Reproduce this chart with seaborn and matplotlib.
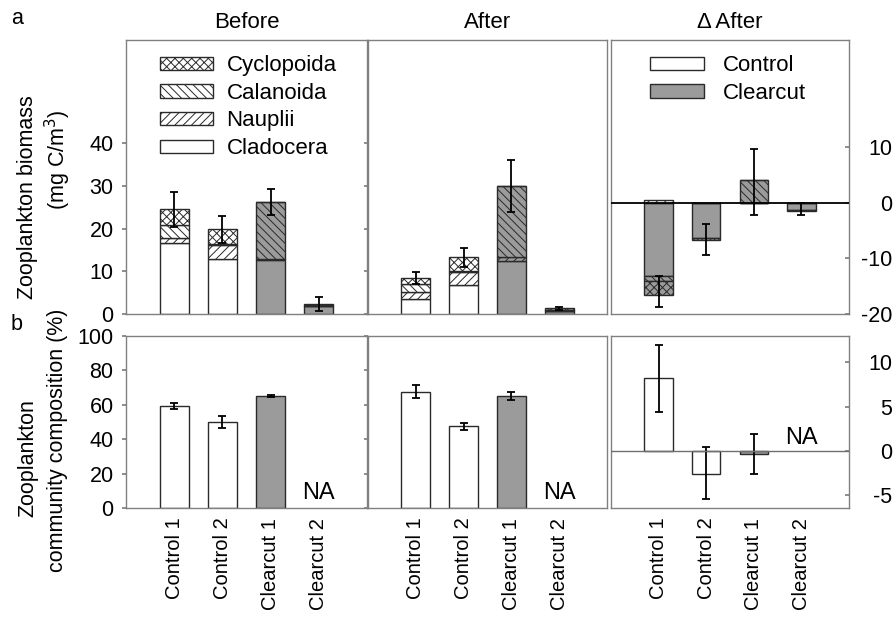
import numpy as np
import pandas as pd
import matplotlib
matplotlib.use("Agg")
import matplotlib.pyplot as plt
import seaborn as sns
from matplotlib.patches import Patch

# ---------------- data ----------------
sites = ["Control 1", "Control 2", "Clearcut 1", "Clearcut 2"]
treatment = ["Control", "Control", "Clearcut", "Clearcut"]
taxa = ["Cyclopoida", "Calanoida", "Nauplii", "Cladocera"]

before_cladocera = [16.7, 13.0, 12.6, 1.8]
before_nauplii = [1.0, 3.2, 0.4, 0.0]
before_calanoida = [3.1, 0.2, 13.2, 0.3]
before_cyclopoida = [3.7, 3.4, 0.0, 0.2]
before_err = [4.0, 3.2, 3.0, 1.6]

after_cladocera = [3.4, 6.7, 12.5, 0.6]
after_nauplii = [1.8, 3.1, 0.8, 0.0]
after_calanoida = [1.8, 0.2, 16.7, 0.4]
after_cyclopoida = [1.4, 3.3, 0.0, 0.3]
after_err = [1.4, 2.2, 6.2, 0.3]

delta_cladocera = [-13.1, -6.3, -0.1, -1.4]
delta_nauplii = [0.4, 0.0, 0.0, 0.0]
delta_calanoida = [-1.0, 0.0, 4.0, -0.1]
delta_cyclopoida = [-2.4, -0.4, 0.0, 0.0]
delta_err_mid = [-16.0, -6.65, 3.7, -1.15]
delta_err = [2.8, 2.75, 6.0, 1.15]

comp_before = [59.3, 50.2, 65.1, np.nan]
comp_before_err = [1.9, 3.5, 0.8, np.nan]
comp_after = [67.6, 47.5, 64.9, np.nan]
comp_after_err = [3.8, 2.2, 2.3, np.nan]
comp_delta = [8.2, -2.6, -0.4, np.nan]
comp_delta_err_mid = [8.2, -2.57, -0.4, np.nan]
comp_delta_err = [3.76, 2.95, 2.3, np.nan]

# ---------------- style ----------------
sns.set_theme(style="white")
plt.rcParams['font.family'] = ['Liberation Sans', 'DejaVu Sans']
plt.rcParams['hatch.linewidth'] = 0.7
plt.rcParams['axes.unicode_minus'] = False
for k in ['text.color', 'axes.labelcolor', 'xtick.color', 'ytick.color']:
    plt.rcParams[k] = 'black'

GRAY = "#9b9b9b"
EDGE = "#2a2a2a"
SPINE = "#808080"
treat_color = {"Control": "white", "Clearcut": GRAY}
site_face = [treat_color[t] for t in treatment]
H_CYC, H_CAL, H_NAU = "xxxx", "\\\\\\\\", "////"
FS = 15.5

W, H = 896, 623
fig = plt.figure(figsize=(W / 100, H / 100), dpi=100)


def axes_px(x0, y0, x1, y1):
    return fig.add_axes([x0 / W, 1 - y1 / H, (x1 - x0) / W, (y1 - y0) / H])


def draw_layer(ax, vals, bottoms, faces, hatch):
    df = pd.DataFrame({"site": sites, "value": vals, "face": faces})
    df = df.dropna()
    sns.barplot(data=df, x="site", y="value", order=sites, ax=ax,
                errorbar=None, width=0.6, bottom=np.asarray(bottoms)[df.index],
                color="white", saturation=1, edgecolor=EDGE, linewidth=1.0,
                hatch=hatch)
    for p, fc in zip(ax.containers[-1], df["face"]):
        p.set_facecolor(fc)


def stacked(ax, layers):
    pos = np.zeros(4)
    neg = np.zeros(4)
    for vals, faces, hatch in layers:
        v = np.asarray(vals, float)
        bottoms = np.where(v >= 0, pos, neg)
        draw_layer(ax, v, bottoms, faces, hatch)
        pos = pos + np.where(v > 0, v, 0)
        neg = neg + np.where(v < 0, v, 0)
    return pos + neg


def errbars(ax, mid, err):
    ax.errorbar(np.arange(4), mid, yerr=err, fmt="none", ecolor="black",
                elinewidth=1.3, capsize=3.2, capthick=1.3, zorder=5)


def frame(ax):
    for s in ax.spines.values():
        s.set_color(SPINE)
        s.set_linewidth(1.0)
    ax.set_xlim(-1, 4)
    ax.set_xlabel("")
    ax.set_ylabel("")


# panel geometry (pixels)
cols = [(126, 367), (368, 607), (611, 849)]
top_rows = (40, 314)
bot_rows = (336, 508)

axT = [axes_px(c[0], top_rows[0], c[1], top_rows[1]) for c in cols]
axB = [axes_px(c[0], bot_rows[0], c[1], bot_rows[1]) for c in cols]

# ---- top row: stacked biomass ----
for ax, (cl, na, ca, cy, er) in zip(axT[:2], [
        (before_cladocera, before_nauplii, before_calanoida, before_cyclopoida, before_err),
        (after_cladocera, after_nauplii, after_calanoida, after_cyclopoida, after_err)]):
    tot = stacked(ax, [(cl, site_face, None), (na, site_face, H_NAU),
                       (ca, site_face, H_CAL), (cy, site_face, H_CYC)])
    errbars(ax, tot, er)
    ax.set_ylim(0, 64.2)
    ax.set_yticks([0, 10, 20, 30, 40])
    frame(ax)

delta_face_main = [GRAY] * 4
delta_face_naup = ["white"] * 4
stacked(axT[2], [(delta_cladocera, delta_face_main, None),
                 (delta_nauplii, delta_face_naup, H_NAU),
                 (delta_calanoida, delta_face_main, H_CAL),
                 (delta_cyclopoida, delta_face_main, H_CYC)])
errbars(axT[2], delta_err_mid, delta_err)
axT[2].axhline(0, color="black", lw=1.3, zorder=6)
axT[2].set_ylim(-20, 29.2)
axT[2].set_yticks([-20, -10, 0, 10])
frame(axT[2])

# ---- bottom row: composition ----
for ax, vals, mid, er in [(axB[0], comp_before, comp_before, comp_before_err),
                          (axB[1], comp_after, comp_after, comp_after_err)]:
    draw_layer(ax, vals, np.zeros(4), site_face, None)
    errbars(ax, mid, er)
    ax.set_ylim(0, 100)
    ax.set_yticks([0, 20, 40, 60, 80, 100])
    ax.text(3, 5, "NA", ha="center", va="baseline", fontsize=17)
    frame(ax)

draw_layer(axB[2], comp_delta, np.zeros(4), site_face, None)
errbars(axB[2], comp_delta_err_mid, comp_delta_err)
axB[2].axhline(0, color="#707070", lw=1.0, zorder=6)
axB[2].text(3, 0.7, "NA", ha="center", va="baseline", fontsize=17)
axB[2].set_ylim(-6.5, 13)
axB[2].set_yticks([-5, 0, 5, 10])
frame(axB[2])

# ---- ticks ----
for ax in axT + axB:
    ax.tick_params(axis="x", length=0)
for ax in axT:
    ax.tick_params(axis="x", labelbottom=False)
for ax in axB:
    ax.set_xticks(range(4))
    ax.set_xticklabels(sites, rotation=90, fontsize=14.5)
    ax.tick_params(axis="x", pad=7)

for ax in [axT[0], axB[0]]:
    ax.tick_params(axis="y", direction="out", length=3, color=SPINE,
                   labelsize=FS, pad=6, left=True)
for ax in [axT[1], axB[1]]:
    ax.tick_params(axis="y", direction="out", length=3, color=SPINE,
                   labelleft=False, left=True)
for ax in [axT[2], axB[2]]:
    ax.yaxis.tick_right()
    ax.tick_params(axis="y", direction="in", length=3, color=SPINE,
                   labelsize=FS, pad=31, right=True)
    for lab in ax.get_yticklabels():
        lab.set_horizontalalignment("right")

# ---- titles ----
for ax, t in zip(axT, ["Before", "After", "\u0394 After"]):
    ax.set_title(t, fontsize=16, pad=9)

# ---- legends ----
leg1 = [Patch(facecolor="white", edgecolor=EDGE, hatch=H_CYC),
        Patch(facecolor="white", edgecolor=EDGE, hatch=H_CAL),
        Patch(facecolor="white", edgecolor=EDGE, hatch=H_NAU),
        Patch(facecolor="white", edgecolor=EDGE)]
axT[0].legend(leg1, taxa, loc="upper left", bbox_to_anchor=(0.14, 0.945),
              frameon=False, fontsize=16, handlelength=2.4, handleheight=0.55,
              handletextpad=0.6, labelspacing=0.3, borderpad=0, borderaxespad=0)
leg2 = [Patch(facecolor="white", edgecolor=EDGE),
        Patch(facecolor=GRAY, edgecolor=EDGE)]
axT[2].legend(leg2, ["Control", "Clearcut"], loc="upper left",
              bbox_to_anchor=(0.165, 0.945), frameon=False, fontsize=16,
              handlelength=2.4, handleheight=0.55, handletextpad=0.85,
              labelspacing=0.3, borderpad=0, borderaxespad=0)

# ---- axis labels / panel letters ----
fig.text(28 / W, 1 - 197 / H, "Zooplankton biomass", rotation=90,
         ha="center", va="center", fontsize=FS)
fig.text(58 / W, 1 - 160 / H, "(mg C/m$^3$)", rotation=90,
         ha="center", va="center", fontsize=FS)
fig.text(28 / W, 1 - 458 / H, "Zooplankton", rotation=90,
         ha="center", va="center", fontsize=FS)
fig.text(58 / W, 1 - 440 / H, "community composition (%)", rotation=90,
         ha="center", va="center", fontsize=FS)
fig.text(17 / W, 1 - 18 / H, "a", ha="center", va="center", fontsize=FS)
fig.text(17 / W, 1 - 325 / H, "b", ha="center", va="center", fontsize=FS)

fig.savefig("out.png", dpi=100, facecolor="white")
